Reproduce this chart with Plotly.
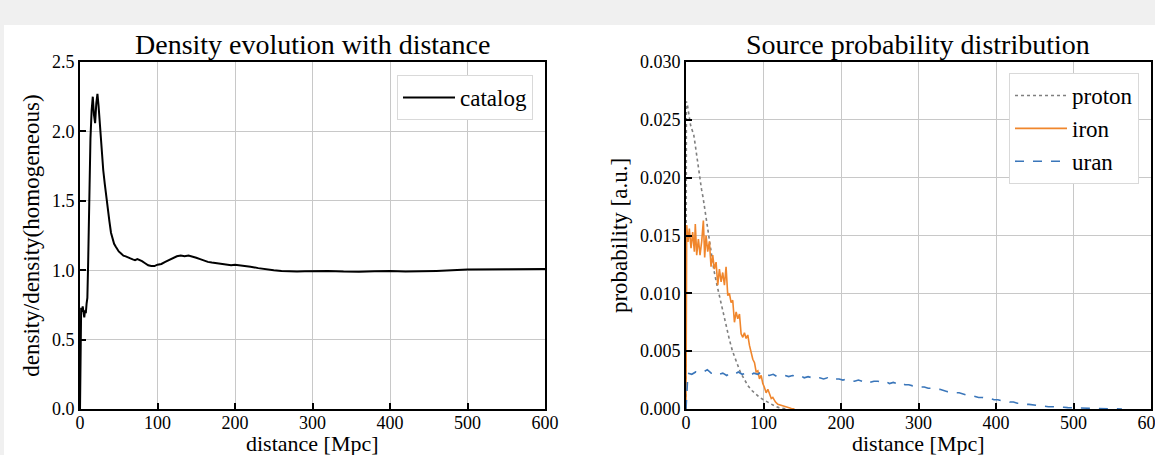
import plotly.graph_objects as go

# ---- Left panel: density evolution ----
cat_d = [0, 0.8, 1.5, 2.5, 3.5, 4.5, 5.5, 6.5, 7.5, 8.5, 9.5, 10.5, 12, 13.5, 15, 16.5, 18, 19.5,
         21, 22.5, 24, 26, 28, 30, 32, 34, 36, 38, 40, 42, 44, 46, 48, 50, 53, 56, 59, 62, 65, 68,
         71, 74, 77, 80, 84, 88, 92, 96, 100, 105, 110, 115, 120, 125, 130, 135, 140, 145, 150,
         155, 160, 165, 170, 175, 180, 185, 190, 195, 200, 205, 210, 220, 230, 240, 250, 260, 270,
         280, 290, 300, 320, 340, 360, 380, 400, 420, 440, 460, 480, 500, 550, 600]
cat_rho = [0.0, 0.47, 0.73, 0.70, 0.74, 0.70, 0.66, 0.71, 0.69, 0.76, 0.80, 1.05, 1.55, 1.95, 2.15,
           2.25, 2.12, 2.06, 2.20, 2.27, 2.18, 2.00, 1.85, 1.72, 1.62, 1.52, 1.43, 1.35, 1.27, 1.22,
           1.19, 1.17, 1.15, 1.135, 1.12, 1.105, 1.10, 1.09, 1.085, 1.078, 1.072, 1.08, 1.075, 1.065,
           1.05, 1.035, 1.03, 1.03, 1.04, 1.045, 1.06, 1.075, 1.09, 1.10, 1.105, 1.10, 1.105, 1.10,
           1.09, 1.08, 1.068, 1.06, 1.055, 1.05, 1.045, 1.04, 1.035, 1.035, 1.04, 1.037, 1.033,
           1.025, 1.015, 1.005, 1.0, 0.995, 0.99, 0.99, 0.993, 0.995, 0.995, 0.99, 0.988, 0.993,
           0.995, 0.99, 0.99, 0.995, 1.0, 1.005, 1.007, 1.008]

# ---- Right panel: source probability ----
proton_d = [0, 0.5, 2, 4, 6, 8, 10, 12, 14, 16, 18, 20, 22, 24, 26, 28, 30, 33, 36, 40, 44, 48,
            52, 56, 60, 65, 70, 75, 80, 85, 90, 95, 100, 105, 110, 116, 120, 125, 130]
proton_p = [0.0, 0.0266, 0.0262, 0.0252, 0.0245, 0.0241, 0.0237, 0.0228, 0.0218, 0.0208, 0.0198,
            0.0190, 0.0183, 0.0174, 0.0164, 0.0154, 0.0145, 0.0132, 0.0120, 0.0107, 0.0095,
            0.0083, 0.0071, 0.0060, 0.0050, 0.0040, 0.0032, 0.0026, 0.0020, 0.0016, 0.0013,
            0.0010, 0.0008, 0.0006, 0.0004, 0.0002, 0.00012, 0.00005, 0.0]

iron_d = [0, 0.9, 2.6, 4.3, 6.5, 8.6, 10.8, 12.0, 13.8, 16.0, 18.1, 20.3, 22.4, 24.1, 25.9, 28.0,
          30.2, 32.3, 34.5, 36.6, 38.8, 41.0, 43.1, 45.3, 47.4, 49.6, 51.7, 53.9, 56.0, 58.2, 60.3,
          62.5, 64.7, 66.8, 69.0, 71.1, 73.3, 75.4, 77.6, 79.7, 81.9, 84.0, 86.2, 88.4, 90.5, 92.7,
          94.8, 97.0, 99.1, 101.0, 103.4, 105.6, 107.8, 110.0, 112.0, 115.5, 118.5, 123.0, 129.0,
          136.0, 140.0]
iron_p = [0.0, 0.0159, 0.01445, 0.0156, 0.0139, 0.0153, 0.0136, 0.0160, 0.0133, 0.0147, 0.0133,
          0.0145, 0.0163, 0.0131, 0.0150, 0.0136, 0.0145, 0.0123, 0.0133, 0.0121, 0.0127, 0.0107,
          0.0121, 0.0110, 0.0118, 0.0107, 0.0123, 0.0098, 0.0100, 0.0092, 0.0094, 0.0075, 0.0084,
          0.0078, 0.0082, 0.0065, 0.0062, 0.0066, 0.0061, 0.0064, 0.0055, 0.0049, 0.0043, 0.0040,
          0.0032, 0.0033, 0.0026, 0.0029, 0.0022, 0.0019, 0.0014, 0.0017, 0.0012, 0.0009, 0.0010,
          0.0006, 0.0004, 0.0003, 0.00015, 0.00005, 0.0]

uran_d = [0, 2.5, 7.5, 12.5, 17.5, 22.5, 27.5, 32.5, 37.5, 42.5, 47.5, 52.5, 57.5, 62.5, 67.5,
          72.5, 77.5, 82.5, 87.5, 92.5, 97.5, 102.5, 107.5, 112.5, 117.5, 122.5, 127.5, 132.5,
          137.5, 142.5, 147.5, 152.5, 157.5, 162.5, 167.5, 172.5, 177.5, 182.5, 187.5, 192.5,
          197.5, 202.5, 207.5, 212.5, 217.5, 222.5, 227.5, 232.5, 237.5, 242.5, 247.5, 252.5,
          257.5, 262.5, 267.5, 272.5, 277.5, 282.5, 287.5, 292.5, 297.5, 302.5, 307.5, 312.5,
          317.5, 322.5, 327.5, 332.5, 337.5, 342.5, 347.5, 352.5, 357.5, 362.5, 367.5, 372.5,
          377.5, 382.5, 387.5, 392.5, 397.5, 402.5, 407.5, 412.5, 417.5, 422.5, 427.5, 432.5,
          437.5, 442.5, 447.5, 452.5, 457.5, 462.5, 467.5, 472.5, 477.5, 482.5, 487.5, 492.5,
          497.5, 502.5, 507.5, 512.5, 517.5, 522.5, 527.5, 532.5, 537.5, 542.5, 547.5, 552.5,
          557.5, 562.5]
uran_p_e4 = [0, 31, 30, 32, 31, 32, 34, 31, 32, 30, 31, 29, 31, 30, 32, 30, 31, 29, 31, 30, 32, 30,
             29, 30, 28, 29, 29, 28, 29, 28, 29, 27, 28, 27, 26, 27, 26, 27, 25, 26, 26, 25, 26,
             25, 24, 25, 24, 25, 23, 24, 24, 23, 24, 22, 23, 22, 23, 21, 21, 20, 20, 19, 19, 18,
             18, 17, 17, 16, 15, 15, 14, 14, 13, 12, 12, 11, 10, 10, 9, 9, 8, 8, 7, 7, 6, 6, 5, 5,
             4, 4, 3.5, 3, 3, 2.5, 2, 2, 2, 1.5, 1.5, 1.2, 1.2, 1, 0.8, 0.8, 0.6, 0.6, 0.5, 0.4,
             0.3, 0.3, 0.2, 0.2, 0.1, 0]
uran_p = [v * 1e-4 for v in uran_p_e4]

x_ticks = [0, 100, 200, 300, 400, 500, 600]

FONT = "Liberation Serif"
W, H = 1155, 455

fig = go.Figure()
fig.add_trace(go.Scatter(x=cat_d, y=cat_rho, mode="lines", name="catalog",
                         line=dict(color="black", width=2), xaxis="x", yaxis="y",
                         legend="legend"))
fig.add_trace(go.Scatter(x=proton_d, y=proton_p, mode="lines", name="proton",
                         line=dict(color="#7f7f7f", width=1.6, dash="dot"),
                         xaxis="x2", yaxis="y2", legend="legend2"))
fig.add_trace(go.Scatter(x=iron_d, y=iron_p, mode="lines", name="iron",
                         line=dict(color="#f0862c", width=1.6),
                         xaxis="x2", yaxis="y2", legend="legend2"))
fig.add_trace(go.Scatter(x=uran_d, y=uran_p, mode="lines", name="uran",
                         line=dict(color="#3a76ba", width=1.6, dash="dash"),
                         xaxis="x2", yaxis="y2", legend="legend2"))

def px_x(p):
    return p / W

def px_y(p):
    return 1 - p / H

ydom = [px_y(409), px_y(62)]
axis_common = dict(showline=True, linewidth=2, linecolor="black", mirror=True,
                   ticks="inside", ticklen=6, tickwidth=2, tickcolor="black",
                   showgrid=True, gridcolor="#c8c8c8", gridwidth=1, zeroline=False,
                   automargin=False, ticklabeloverflow="allow",
                   tickfont=dict(family=FONT, size=18, color="black"))

def text_note(text, xpx, ypx, size, yanchor):
    return dict(text=text, x=px_x(xpx), y=px_y(ypx), xref="paper", yref="paper",
                xanchor="center", yanchor=yanchor, showarrow=False,
                font=dict(family=FONT, size=size, color="black"))

fig.update_layout(
    width=W, height=H, autosize=False,
    margin=dict(l=0, r=0, t=0, b=0, pad=0),
    paper_bgcolor="#f0f0f0", plot_bgcolor="white",
    font=dict(family=FONT, color="black"),
    xaxis=dict(domain=[px_x(80), px_x(545)], range=[0, 600], tickvals=x_ticks,
               ticklabelstandoff=-4, anchor="y", **axis_common),
    yaxis=dict(domain=ydom, range=[0, 2.5], dtick=0.5, tickformat=".1f",
               title=dict(text="density/density(homogeneous)", font=dict(size=23), standoff=6),
               anchor="x", **axis_common),
    xaxis2=dict(domain=[px_x(686), px_x(1151)], range=[0, 600], tickvals=x_ticks,
                ticklabelstandoff=-4, anchor="y2", **axis_common),
    yaxis2=dict(domain=ydom, range=[0, 0.030], dtick=0.005, tickformat=".3f",
                title=dict(text="probability [a.u.]", font=dict(size=23), standoff=6),
                anchor="x2", **axis_common),
    legend=dict(x=px_x(533), y=px_y(75), xanchor="right", yanchor="top",
                bgcolor="white", bordercolor="#d9d9d9", borderwidth=1, itemwidth=52,
                font=dict(family=FONT, size=23, color="black")),
    legend2=dict(x=px_x(1139), y=px_y(73), xanchor="right", yanchor="top",
                 bgcolor="white", bordercolor="#d9d9d9", borderwidth=1, itemwidth=52,
                 font=dict(family=FONT, size=23, color="black")),
    showlegend=True,
    shapes=[dict(type="rect", xref="paper", yref="paper", x0=px_x(4), x1=1.05,
                 y0=-0.05, y1=px_y(25), fillcolor="white", line=dict(width=0),
                 layer="below")],
    annotations=[
        text_note("Density evolution with distance", 312, 62, 28, "bottom"),
        text_note("Source probability distribution", 918, 62, 28, "bottom"),
        text_note("distance [Mpc]", 312.5, 429, 22, "top"),
        text_note("distance [Mpc]", 918.5, 429, 22, "top"),
    ],
)

fig.write_html("out.html")
